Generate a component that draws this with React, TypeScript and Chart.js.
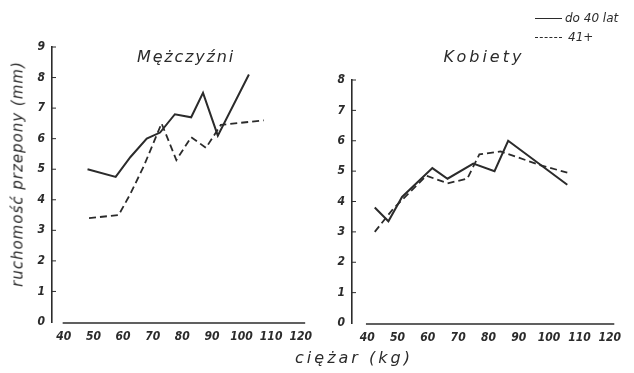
import React, { useEffect, useRef } from "react";
import { Chart, registerables } from "chart.js";

Chart.register(...registerables);

// ---- data ----
const xTickValues = [40, 50, 60, 70, 80, 90, 100, 110, 120];
const yTicksMen = [0, 1, 2, 3, 4, 5, 6, 7, 8, 9];
const yTicksWomen = [0, 1, 2, 3, 4, 5, 6, 7, 8];

const seriesLabels = ["do 40 lat", "41+"];

const menKgYoung = [48, 57.5, 62.5, 68, 72.5, 77.5, 83, 87, 92, 102.5];
const menValYoung = [5.0, 4.75, 5.4, 6.0, 6.2, 6.8, 6.7, 7.5, 6.1, 8.1];
const menKgOld = [48.5, 58.5, 62.5, 67, 73, 78, 83, 88, 93, 107.5];
const menValOld = [3.4, 3.5, 4.2, 5.1, 6.5, 5.3, 6.05, 5.7, 6.45, 6.6];

const womenKgYoung = [42.5, 47, 51.5, 61.5, 66.5, 75, 82, 86.5, 106];
const womenValYoung = [3.8, 3.35, 4.15, 5.1, 4.75, 5.25, 5.0, 6.0, 4.55];
const womenKgOld = [42.5, 48.5, 59.5, 66.5, 73, 77, 84, 97, 106];
const womenValOld = [3.0, 3.75, 4.85, 4.6, 4.75, 5.55, 5.65, 5.2, 4.95];

const INK = "#2b2b2b";
const TICK_FONT = {
  family: "'Liberation Sans Narrow', 'DejaVu Sans Condensed', 'DejaVu Sans', sans-serif",
  style: "italic" as const,
  weight: "bold" as const,
  size: 12,
};

const axisDecor = {
  id: "axisDecor",
  afterDraw(chart: any) {
    const { ctx } = chart;
    const x = chart.scales.x;
    const y = chart.scales.y;
    ctx.save();
    ctx.strokeStyle = INK;
    ctx.lineWidth = 1.5;
    const y0 = y.getPixelForValue(0) + 1;
    ctx.beginPath();
    ctx.moveTo(x.getPixelForValue(39.6), y0);
    ctx.lineTo(x.getPixelForValue(121.5), y0);
    ctx.stroke();
    ctx.lineWidth = 1;
    y.ticks.forEach((t: any) => {
      if (t.value <= 0) return;
      const py = y.getPixelForValue(t.value);
      ctx.beginPath();
      ctx.moveTo(x.left, py);
      ctx.lineTo(x.left + 4, py);
      ctx.stroke();
    });
    ctx.restore();
  },
};

function pts(xs: number[], ys: number[]) {
  return xs.map((v, i) => ({ x: v, y: ys[i] }));
}

function makeConfig(
  young: { x: number; y: number }[],
  old: { x: number; y: number }[],
  xMin: number,
  xMax: number,
  yTicks: number[],
  yAxisWidth: number,
  topPad: number,
  xAxisHeight: number
): any {
  return {
    type: "line",
    data: {
      datasets: [
        {
          label: seriesLabels[0],
          data: young,
          borderColor: INK,
          borderWidth: 2,
          pointRadius: 0,
          tension: 0,
          fill: false,
        },
        {
          label: seriesLabels[1],
          data: old,
          borderColor: INK,
          borderWidth: 1.8,
          borderDash: [7, 4],
          pointRadius: 0,
          tension: 0,
          fill: false,
        },
      ],
    },
    options: {
      animation: false,
      responsive: false,
      layout: { padding: { top: topPad, right: 0, bottom: 0, left: 0 } },
      plugins: {
        legend: { display: false },
        title: { display: false },
        tooltip: { enabled: false },
      },
      scales: {
        x: {
          type: "linear",
          min: xMin,
          max: xMax,
          grid: { display: false, drawTicks: false },
          border: { display: false },
          ticks: { color: INK, font: TICK_FONT, padding: 8, maxRotation: 0 },
          afterBuildTicks: (s: any) => {
            s.ticks = xTickValues.map((v) => ({ value: v }));
          },
          afterFit: (s: any) => {
            s.height = xAxisHeight;
          },
        },
        y: {
          type: "linear",
          min: 0,
          max: yTicks[yTicks.length - 1],
          grid: { display: false, drawTicks: false },
          border: { display: true, color: INK, width: 1.6 },
          ticks: { color: INK, font: TICK_FONT, padding: 7 },
          afterBuildTicks: (s: any) => {
            s.ticks = yTicks.map((v) => ({ value: v }));
          },
          afterFit: (s: any) => {
            s.width = yAxisWidth;
          },
        },
      },
    },
    plugins: [axisDecor],
  };
}

const textBase: React.CSSProperties = {
  position: "absolute",
  fontFamily: "'DejaVu Sans', sans-serif",
  fontStyle: "italic",
  color: INK,
  whiteSpace: "nowrap",
  lineHeight: "1",
};

export default function App() {
  const leftRef = useRef<HTMLCanvasElement>(null);
  const rightRef = useRef<HTMLCanvasElement>(null);

  useEffect(() => {
    const c1 = new Chart(
      leftRef.current!,
      makeConfig(pts(menKgYoung, menValYoung), pts(menKgOld, menValOld), 36, 124, yTicksMen, 52, 47, 51)
    );
    const c2 = new Chart(
      rightRef.current!,
      makeConfig(pts(womenKgYoung, womenValYoung), pts(womenKgOld, womenValOld), 35, 128, yTicksWomen, 32, 80, 50)
    );
    return () => {
      c1.destroy();
      c2.destroy();
    };
  }, []);

  return (
    <div style={{ position: "absolute", left: 0, top: 0, width: 634, height: 373, background: "#fff", overflow: "hidden" }}>
      <canvas ref={leftRef} width={320} height={373} style={{ position: "absolute", left: 0, top: 0, width: 320, height: 373 }} />
      <canvas ref={rightRef} width={314} height={373} style={{ position: "absolute", left: 320, top: 0, width: 314, height: 373 }} />

      {/* panel titles */}
      <div style={{ ...textBase, left: 186, top: 57, transform: "translate(-50%,-50%)", fontSize: 16, letterSpacing: 1.8 }}>Mężczyźni</div>
      <div style={{ ...textBase, left: 484, top: 57, transform: "translate(-50%,-50%)", fontSize: 16, letterSpacing: 3 }}>Kobiety</div>

      {/* axis titles */}
      <div style={{ ...textBase, left: 18, top: 174, transform: "translate(-50%,-50%) rotate(-90deg)", fontSize: 15, letterSpacing: 1 }}>
        ruchomość przepony (mm)
      </div>
      <div style={{ ...textBase, left: 354, top: 358, transform: "translate(-50%,-50%)", fontSize: 16, letterSpacing: 3 }}>
        ciężar (kg)
      </div>

      {/* legend */}
      <div style={{ position: "absolute", left: 535, top: 18, width: 27, borderTop: `1.6px solid ${INK}` }} />
      <div style={{ ...textBase, left: 565, top: 12, fontSize: 12 }}>{seriesLabels[0]}</div>
      <div style={{ position: "absolute", left: 535, top: 37, width: 27, borderTop: `1.6px dashed ${INK}` }} />
      <div style={{ ...textBase, left: 568, top: 31, fontSize: 12 }}>{seriesLabels[1]}</div>
    </div>
  );
}
